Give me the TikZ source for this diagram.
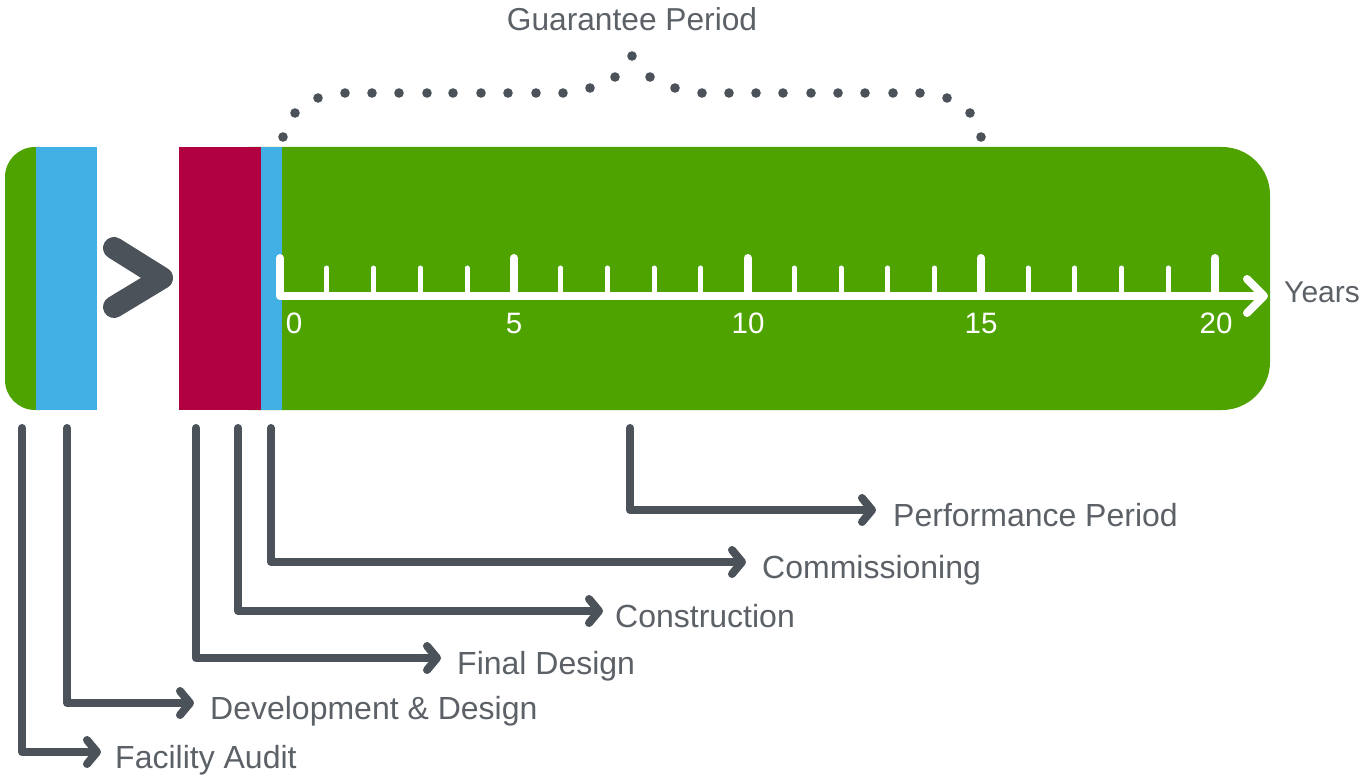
\documentclass[tikz,border=0pt]{standalone}
\usepackage{fontspec}
\setmainfont{Liberation Sans}
\usetikzlibrary{arrows.meta}
\definecolor{gr}{HTML}{4FA300}
\definecolor{bl}{HTML}{42B0E4}
\definecolor{cr}{HTML}{B0003F}
\definecolor{dk}{HTML}{4B5259}
\definecolor{tx}{HTML}{5C6167}
\begin{document}
\begin{tikzpicture}[x=1pt,y=-1pt,
  conn/.style={dk, line width=8pt, line cap=round, line join=round,
    -{Straight Barb[length=10pt,width=24pt,round]}},
  lbl/.style={anchor=west, inner sep=0pt, text=tx, font=\fontsize{32}{38}\selectfont,
    text height=37pt, text depth=4pt},
  axisline/.style={white, line width=8pt, line cap=round, line join=round},
  minortick/.style={white, line width=5pt, line cap=round},
  num/.style={text=white, inner sep=0pt, font=\fontsize{29.5}{34}\selectfont},
  dot/.style={fill=dk, draw=none}
]
\useasboundingbox (0,0) rectangle (1364,775);
% bars
\fill[gr, rounded corners=30pt] (5,147) rectangle (70,410);
\fill[bl] (36,147) rectangle (97,410);
\fill[gr, rounded corners=48pt] (200,147) rectangle (1270,410);
\fill[cr] (179,147) rectangle (261,410);
\fill[bl] (261,147) rectangle (282,410);
% chevron
\draw[dk, line width=22pt, line cap=round, line join=round] (114,248) -- (162,278) -- (114,307);
% axis
\draw[axisline] (280,258) -- (280,296) -- (1262,296);
\draw[axisline] (1247,279) -- (1264,296) -- (1247,313);
\foreach \i in {1,2,3,4,6,7,8,9,11,12,13,14,16,17,18,19}
  \draw[minortick] ({280+46.75*\i},268) -- ({280+46.75*\i},296);
\foreach \i in {5,10,15,20}
  \draw[axisline] ({280+46.75*\i},258) -- ({280+46.75*\i},296);
\node[num] (n0) at (294,323) {0};
\node[num] (n5) at (514,323) {5};
\node[num] (n10) at (748,323) {10};
\node[num] (n15) at (981,323) {15};
\node[num] (n20) at (1216,323) {20};
\node[anchor=west, inner sep=0pt, text=tx, font=\fontsize{30}{36}\selectfont] (years) at (1284,292) {Years};
% guarantee period
\node[text=tx, inner sep=0pt, font=\fontsize{31.7}{38}\selectfont] (gp) at (632,19) {Guarantee Period};
\foreach \p in {(283,137),(295,113),(318,98),(345,93),(372,93),(399,93),(427,93),(453,93),(481,93),(508,93),(536,93),(563,93),(590,88),(615,77),(632,56),(650,77),(675,88),(702,93),(729,93),(756,93),(783,93),(811,93),(838,93),(865,93),(893,93),(920,93),(947,98),(970,113),(981,137)}
  \fill[dot] \p circle (4.8pt);
% connector origins
\coordinate (cfa) at (22,428);
\coordinate (cdd) at (67,428);
\coordinate (cfd) at (196,428);
\coordinate (cco) at (238,428);
\coordinate (ccm) at (271,428);
\coordinate (cpp) at (630,428);
% labels
\node[lbl] (tfa) at (115,752) {Facility Audit};
\node[lbl] (tdd) at (210,703) {Development \& Design};
\node[lbl] (tfd) at (457,658) {Final Design};
\node[lbl] (tco) at (615,611) {Construction};
\node[lbl] (tcm) at (762,562) {Commissioning};
\node[lbl] (tpp) at (893,510) {Performance Period};
% connectors
\draw[conn] (cfa) |- ([xshift=-14pt]tfa.west);
\draw[conn] (cdd) |- ([xshift=-16pt]tdd.west);
\draw[conn] (cfd) |- ([xshift=-16pt]tfd.west);
\draw[conn] (cco) |- ([xshift=-12pt]tco.west);
\draw[conn] (ccm) |- ([xshift=-16pt]tcm.west);
\draw[conn] (cpp) |- ([xshift=-17pt]tpp.west);
\end{tikzpicture}
\end{document}
